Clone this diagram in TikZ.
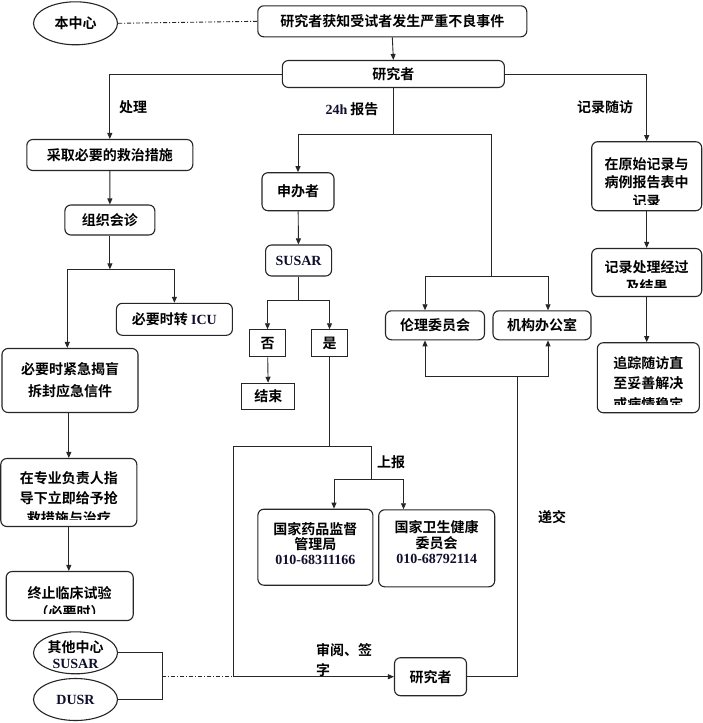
\documentclass[tikz,border=0pt]{standalone}
\usepackage{fontspec}
\setmainfont{Noto Sans CJK SC}[BoldFont={Noto Sans CJK SC Bold}]
\newfontfamily\latf{Liberation Serif}
\usetikzlibrary{arrows.meta,shapes.geometric}
\definecolor{latcol}{RGB}{15,15,45}
\newcommand{\La}[1]{{\latf\bfseries\color{latcol}#1}}
\newcommand{\fs}[1]{\fontsize{14}{#1}\selectfont\bfseries}
\begin{document}
\begin{tikzpicture}[x=1pt,y=-1pt,
  every node/.style={font=\fs{18}, inner sep=0pt},
  box/.style={draw=black!85, line width=1.1pt, rounded corners=6pt, align=center},
  sqbox/.style={draw=black!85, line width=1.1pt, align=center},
  ell/.style={draw=black!85, line width=1.1pt, ellipse},
  conn/.style={line width=0.9pt, draw=black!85},
  arr/.style={conn, -{Triangle[length=6pt,width=5pt]}},
  dashdot/.style={line width=0.9pt, draw=black!85, dash pattern=on 4pt off 2pt on 1pt off 2pt}]
\fill[white] (0,0) rectangle (703,723);
\useasboundingbox (0,0) rectangle (703,723);

% top
\node[ell, minimum width=84, minimum height=43] (bzx) at (75.5,23.3) {};
\node at (75.5,23.3) {本中心};
\node[box, minimum width=269, minimum height=31] (evt) at (392.3,21.3) {研究者获知受试者发生严重不良事件};
\node[box, minimum width=222, minimum height=27] (yjz) at (393.4,74) {研究者};

% left column
\node[box, minimum width=166, minimum height=31] (cq) at (109.8,155) {采取必要的救治措施};
\node[box, minimum width=90, minimum height=30] (zz) at (109.9,220) {组织会诊};
\node[box, minimum width=116, minimum height=32] (icu) at (174.4,319.3) {必要时转 \La{ICU}};
\node[box, minimum width=136, minimum height=64, font=\fs{21.7}] (jm) at (70,380.5) {必要时紧急揭盲\\拆封应急信件};
\node[box, minimum width=136, minimum height=68] (zy) at (68.8,492.5) {};
\begin{scope}
\clip (zy.north west) rectangle ([yshift=8pt]zy.south east);
\node[anchor=north, align=center, font=\fs{20}] (zyt) at (68.8,471) {在专业负责人指\\导下立即给予抢\\救措施与治疗};
\end{scope}
\node[box, minimum width=127, minimum height=49] (zzs) at (69.7,596) {};
\begin{scope}
\clip (zzs.north west) rectangle ([yshift=8pt]zzs.south east);
\node[anchor=north, align=center, font=\fs{19}] (zzst) at (69.7,586) {终止临床试验\\（必要时）};
\end{scope}

% right column
\node[box, minimum width=110, minimum height=69] (r1) at (646.7,176.2) {};
\begin{scope}
\clip (r1.north west) rectangle ([yshift=7pt]r1.south east);
\node[anchor=north, align=center, font=\fs{18.5}] (r1t) at (646.7,157) {在原始记录与\\病例报告表中\\记录};
\end{scope}
\node[box, minimum width=110, minimum height=48] (r2) at (646.7,272.5) {};
\begin{scope}
\clip (r2.north west) rectangle ([yshift=10pt]r2.south east);
\node[anchor=north, align=center, font=\fs{19.5}] (r2t) at (646.7,260) {记录处理经过\\及结果};
\end{scope}
\node[box, minimum width=102, minimum height=70] (r3) at (648.3,377.7) {};
\begin{scope}
\clip (r3.north west) rectangle ([yshift=9pt]r3.south east);
\node[anchor=north, align=center, font=\fs{20.5}] (r3t) at (648.3,356) {追踪随访直\\至妥善解决\\或病情稳定};
\end{scope}

% middle
\node[box, minimum width=72, minimum height=38] (sbz) at (298,191.7) {申办者};
\node[box, minimum width=66, minimum height=31] (susar) at (298.6,260.5) {\La{SUSAR}};
\node[sqbox, minimum width=36, minimum height=27] (fou) at (267.5,343.3) {否};
\node[sqbox, minimum width=36, minimum height=27] (shi) at (329.5,343.3) {是};
\node[sqbox, minimum width=53, minimum height=26] (js) at (268.3,396.3) {结束};
\node[box, minimum width=99, minimum height=29] (lunli) at (435,325.3) {伦理委员会};
\node[box, minimum width=98, minimum height=29] (jigou) at (542,325.3) {机构办公室};
\node[box, minimum width=115, minimum height=76] (yp) at (315.4,547.2) {};
\node[align=center, font=\fs{15}] at (315.4,543.3) {国家药品监督\\管理局\\\La{010-68311166}};
\node[box, minimum width=116, minimum height=77] (ws) at (436.7,548.3) {};
\node[align=center, font=\fs{15.5}] at (436.7,542.5) {国家卫生健康\\委员会\\\La{010-68792114}};
\node[box, minimum width=72, minimum height=38] (yjz2) at (430.5,676.7) {研究者};

% bottom ellipses
\node[ell, minimum width=84, minimum height=42] (qt) at (75.5,652.8) {};
\node[align=center, font=\fs{16}] at (75.5,654.7) {其他中心\\\La{SUSAR}};
\node[ell, minimum width=84, minimum height=42] (dusr) at (75.5,699.5) {};
\node at (75.5,699.5) {\La{DUSR}};

% labels
\node at (133,107) {处理};
\node at (352,109) {\La{24h} 报告};
\node at (605,107) {记录随访};
\node at (391,461.7) {上报};
\node at (552,517.3) {递交};
\node[anchor=north west, align=left, font=\fs{20}] at (316,643) {审阅、签\\字};

% coordinates
\coordinate (m1) at (393.4,134.3);
\coordinate (m1r) at (491.8,134.3);
\coordinate (m2) at (491.8,276);
\coordinate (h1) at (109.9,269.3);
\coordinate (hl) at (67.3,269.3);
\coordinate (hr) at (174.4,269.3);
\coordinate (s1) at (298.6,300);
\coordinate (s2) at (329.5,446);
\coordinate (sl) at (233.6,446);
\coordinate (sr) at (371.2,446);
\coordinate (sb) at (371.2,479.3);
\coordinate (b1) at (162.3,652.8);
\coordinate (b2) at (162.3,699.5);
\coordinate (b3) at (162.3,676.7);
\coordinate (b4) at (233.6,676.7);
\coordinate (u1) at (517.9,376);

% connectors
\draw[dashdot] (bzx.east) -- (evt.west);
\draw[arr] (evt.south) -- (yjz.north);
\draw[arr] (yjz.west) -| (cq.north);
\draw[arr] (yjz.east) -| (r1.north);
\draw[conn] (yjz.south) -- (m1);
\draw[arr] (m1) -| (sbz.north);
\draw[conn] (m1) -- (m1r) -- (m2);
\draw[arr] (m2) -| ([xshift=-10pt]lunli.north);
\draw[arr] (m2) -| ([xshift=6pt]jigou.north);

\draw[arr] (cq) -- (zz);
\draw[arr] (zz.south) -- (h1);
\draw[conn] (hl) -- (hr);
\draw[arr] (hl) -- (hl |- jm.north);
\draw[arr] (hr) -- (icu.north);
\draw[arr] (zy.north |- jm.south) -- (zy.north);
\draw[arr] (zy.south) -- (zy.south |- zzs.north);

\draw[arr] (r1.south -| r2.north) -- (r2.north);
\draw[arr] (r2.south) -- (r2.south |- r3.north);

\draw[arr] (sbz) -- (susar);
\draw[conn] (susar.south) -- (s1);
\draw[arr] (s1) -| (fou.north);
\draw[arr] (s1) -| (shi.north);
\draw[arr] (fou) -- (js);
\draw[conn] (shi.south) -- (s2);
\draw[conn] (sl) -- (sr) -- (sb);
\draw[arr] (sb) -| ([xshift=18.6pt]yp.north);
\draw[arr] (sb) -| ([xshift=-33.2pt]ws.north);
\draw[conn] (sl) -- (b4);

\draw[conn] (qt.east) -- (b1) -- (b2) -- (dusr.east);
\draw[dashdot] (b3) -- (b4);
\draw[arr] (b4) -- (yjz2.west);
\draw[conn] (yjz2.east) -| (u1);
\draw[arr] (u1) -| ([xshift=-10pt]lunli.south);
\draw[arr] (u1) -| ([xshift=6pt]jigou.south);
\end{tikzpicture}
\end{document}
